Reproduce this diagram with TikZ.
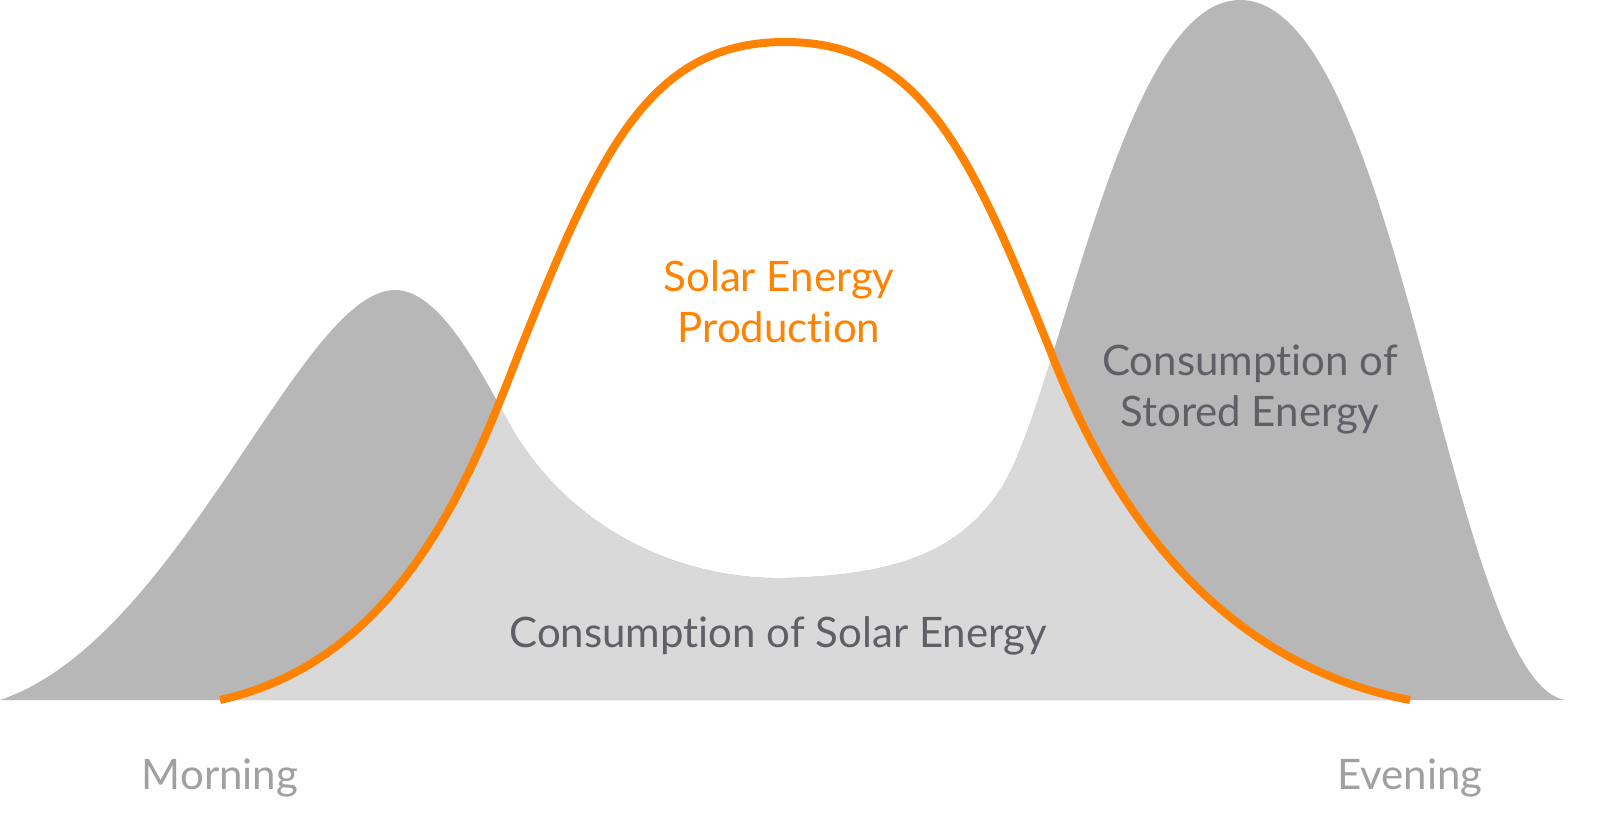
\documentclass[tikz,border=0pt]{standalone}
\usepackage{fontspec}
\setmainfont{Lato}[Ligatures=NoCommon]
\definecolor{dg}{HTML}{B7B7B7}
\definecolor{lg}{HTML}{D9D9D9}
\definecolor{orng}{HTML}{FF8200}
\definecolor{txt}{HTML}{5F5F66}
\definecolor{ltxt}{HTML}{A0A0A0}
\begin{document}
\begin{tikzpicture}[x=1pt,y=-1pt,
  lab/.style={font=\fontsize{42}{51}\selectfont,align=center}]
\useasboundingbox[fill=white] (0,0) rectangle (1600,820);
\def\cons{(0,700) .. controls (180,640) and (300,290) .. (395,290) .. controls (440,290) and (480,370) .. (510,425) .. controls (570,530) and (680,580) .. (785,578) .. controls (900,575) and (960,550) .. (1000,490) .. controls (1060,400) and (1120,0) .. (1240,0) .. controls (1400,0) and (1450,680) .. (1565,700) -- cycle}
\def\sol{(220,700) .. controls (400,660) and (470,480) .. (520,350) .. controls (600,150) and (650,42) .. (785,42) .. controls (920,42) and (970,150) .. (1050,350) .. controls (1100,480) and (1200,660) .. (1410,700)}
\fill[dg] \cons;
\begin{scope}
\clip \sol -- cycle;
\fill[lg] \cons;
\end{scope}
\draw[orng,line width=8pt] \sol;
\node[lab,text=orng] (s) at (779,302) {Solar Energy\\Production};
\node[lab,text=txt] (st) at (1250,390) {Consumption of\\Stored Energy};
\node[lab,text=txt] (cs) at (778,636) {Consumption of Solar Energy};
\node[lab,text=ltxt] (m) at (220,778) {Morning};
\node[lab,text=ltxt] (e) at (1410,778) {Evening};
\end{tikzpicture}
\end{document}
